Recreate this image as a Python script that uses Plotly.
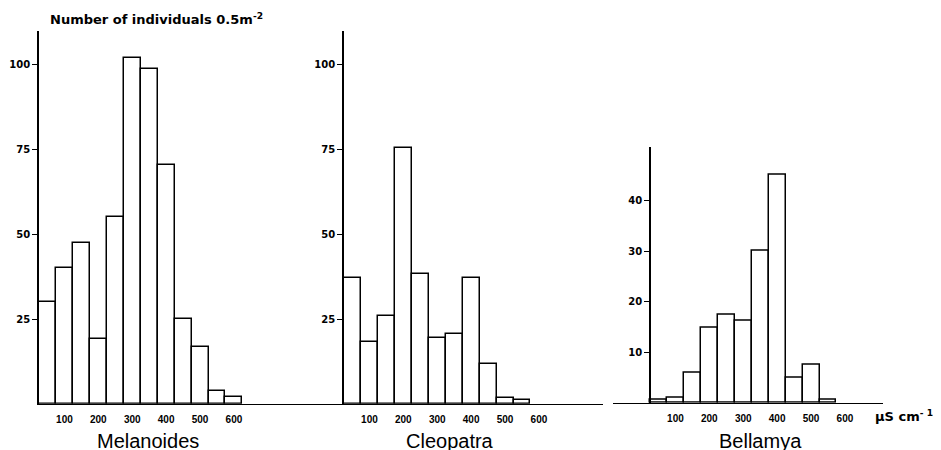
import plotly.graph_objects as go

# The page body has an 8px margin, so the figure is drawn 8px right and down.
OFF = 8
W, H = 941 - OFF, 450 - OFF

# ---- data ----
bin_centers_mel = [50, 100, 150, 200, 250, 300, 350, 400, 450, 500, 550, 600]
melanoides = [30, 40, 47.5, 19, 55.2, 102, 98.8, 70.5, 24.9, 16.8, 3.8, 1.9]

bin_centers_cle = [50, 100, 150, 200, 250, 300, 350, 400, 450, 500, 550]
cleopatra = [37, 18.3, 26, 75.4, 38.4, 19.3, 20.6, 37.2, 11.8, 1.8, 1.2]

bin_centers_bel = [50, 100, 150, 200, 250, 300, 350, 400, 450, 500, 550]
bellamya = [0.7, 1.0, 6.0, 14.8, 17.4, 16.3, 30.1, 45.2, 4.9, 7.6, 0.55]

x_ticks = [100, 200, 300, 400, 500, 600]
x_tick_labels = ["100", "200", "300", "400", "500", "600"]
y_ticks_12 = [25, 50, 75, 100]
y_ticks_3 = [10, 20, 30, 40]

species = ["Melanoides", "Cleopatra", "Bellamya"]
y_title = "Number of individuals 0.5m<sup>-2</sup>"
x_unit = "µS cm<sup>- 1</sup>"

BIN_W = 50


def px(x):
    return (x - OFF) / W


def py(y):
    return 1 - (y - OFF) / H


fig = go.Figure()
bar_style = dict(marker=dict(color="white", line=dict(color="black", width=1.5)),
                 width=BIN_W, showlegend=False, hoverinfo="skip")
fig.add_trace(go.Bar(x=bin_centers_mel, y=melanoides, xaxis="x", yaxis="y", **bar_style))
fig.add_trace(go.Bar(x=bin_centers_cle, y=cleopatra, xaxis="x2", yaxis="y2", **bar_style))
fig.add_trace(go.Bar(x=bin_centers_bel, y=bellamya, xaxis="x3", yaxis="y3", **bar_style))

xt_font = dict(family="Liberation Sans", size=10, color="black", weight="bold")
yt_font = dict(family="DejaVu Sans", size=10, color="black", weight="bold")

xcommon = dict(showline=True, linecolor="black", linewidth=1.3, showgrid=False,
               zeroline=False, tickvals=x_ticks, ticktext=x_tick_labels, ticks="",
               tickfont=xt_font, ticklabelstandoff=6, fixedrange=True)
ycommon = dict(showline=True, linecolor="black", linewidth=1.6, showgrid=False,
               zeroline=False, ticks="outside", ticklen=5, tickwidth=1,
               tickcolor="black", tickfont=yt_font, fixedrange=True)

sc = 0.3390  # px per unit
fig.update_layout(
    width=W, height=H, autosize=False,
    margin=dict(l=0, r=0, t=0, b=0),
    paper_bgcolor="white", plot_bgcolor="rgba(0,0,0,0)",
    bargap=0,
    xaxis=dict(domain=[px(39), px(344)], range=[25, 25 + 305 / sc], anchor="y", **xcommon),
    xaxis2=dict(domain=[px(344), px(603)], range=[25, 25 + 259 / sc], anchor="y2", **xcommon),
    xaxis3=dict(domain=[px(613), px(883)], range=[25 - 37 / sc, 25 + 233 / sc], anchor="y3", **xcommon),
    yaxis=dict(domain=[py(403.7), py(31)], range=[0, 110], anchor="x",
               tickvals=y_ticks_12, **ycommon),
    yaxis2=dict(domain=[py(403.7), py(31)], range=[0, 110], anchor="x2",
                tickvals=y_ticks_12, **ycommon),
    yaxis3=dict(domain=[py(402.8), py(146.7)], range=[0, 50.7], anchor="free",
                position=px(650), tickvals=y_ticks_3, **ycommon),
)

name_font = dict(family="Liberation Sans", size=20, color="black")
for name, cx in zip(species, [148, 450, 760]):
    fig.add_annotation(text=name, x=px(cx), y=py(441), xref="paper", yref="paper",
                       xanchor="center", yanchor="middle", showarrow=False, font=name_font)

fig.add_annotation(text=y_title, x=px(48), y=py(19), xref="paper", yref="paper",
                   xanchor="left", yanchor="middle", showarrow=False,
                   font=dict(family="DejaVu Sans", size=13, color="black", weight="bold"))
fig.add_annotation(text=x_unit, x=px(873), y=py(416), xref="paper", yref="paper",
                   xanchor="left", yanchor="middle", showarrow=False,
                   font=dict(family="DejaVu Sans", size=13, color="black", weight="bold"))

fig.write_html("out.html")
